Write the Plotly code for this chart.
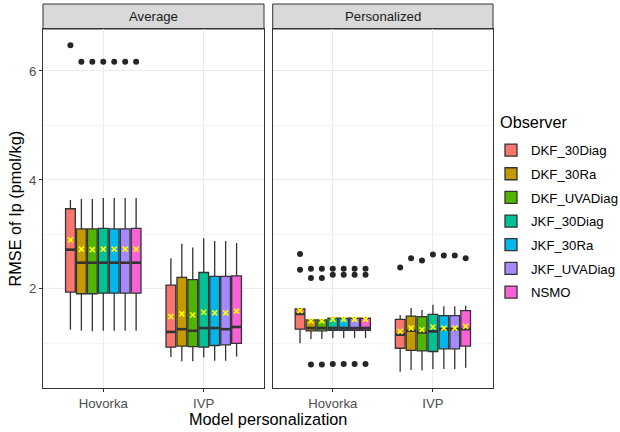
import plotly.graph_objects as go
from plotly.subplots import make_subplots

observers = ["DKF_30Diag", "DKF_30Ra", "DKF_UVADiag", "JKF_30Diag", "JKF_30Ra", "JKF_UVADiag", "NSMO"]
colors = ["#F8766D", "#C49A00", "#53B400", "#00C094", "#00B6EB", "#A58AFF", "#FB61D7"]
models = ["Hovorka", "IVP"]
panels = ["Average", "Personalized"]

# ---- Average / Hovorka
avg_hov_lower = [1.25, 1.23, 1.22, 1.23, 1.23, 1.23, 1.23]
avg_hov_q1 = [1.94, 1.91, 1.91, 1.92, 1.92, 1.92, 1.92]
avg_hov_median = [2.72, 2.48, 2.48, 2.48, 2.48, 2.48, 2.48]
avg_hov_q3 = [3.47, 3.10, 3.10, 3.11, 3.10, 3.10, 3.11]
avg_hov_upper = [3.63, 3.65, 3.65, 3.67, 3.67, 3.67, 3.67]
avg_hov_mean = [2.90, 2.73, 2.72, 2.73, 2.73, 2.73, 2.73]
avg_hov_out = [[6.47], [6.17], [6.17], [6.17], [6.17], [6.17], [6.17]]

# ---- Average / IVP
avg_ivp_lower = [0.75, 0.67, 0.67, 0.74, 0.68, 0.68, 0.76]
avg_ivp_q1 = [0.93, 0.95, 0.94, 0.93, 0.96, 0.97, 1.00]
avg_ivp_median = [1.21, 1.26, 1.23, 1.28, 1.28, 1.26, 1.30]
avg_ivp_q3 = [2.07, 2.21, 2.17, 2.30, 2.23, 2.23, 2.24]
avg_ivp_upper = [2.56, 2.83, 2.76, 2.93, 2.88, 2.88, 2.84]
avg_ivp_mean = [1.49, 1.54, 1.52, 1.57, 1.56, 1.56, 1.59]
avg_ivp_out = [[], [], [], [], [], [], []]

# ---- Personalized / Hovorka
per_hov_lower = [1.00, 1.08, 1.08, 1.10, 1.10, 1.10, 1.10]
per_hov_q1 = [1.26, 1.23, 1.23, 1.24, 1.24, 1.24, 1.24]
per_hov_median = [1.54, 1.28, 1.28, 1.28, 1.28, 1.28, 1.28]
per_hov_q3 = [1.63, 1.43, 1.43, 1.46, 1.46, 1.46, 1.46]
per_hov_upper = [1.63, 1.43, 1.43, 1.46, 1.46, 1.46, 1.46]
per_hov_mean = [1.60, 1.41, 1.41, 1.44, 1.44, 1.44, 1.44]
per_hov_out = [[2.64, 2.35], [2.37, 2.20, 0.61], [2.37, 2.20, 0.61], [2.37, 2.26, 0.62],
               [2.37, 2.26, 0.62], [2.37, 2.26, 0.62], [2.37, 2.26, 0.62]]

# ---- Personalized / IVP
per_ivp_lower = [0.48, 0.51, 0.50, 0.53, 0.53, 0.53, 0.55]
per_ivp_q1 = [0.91, 0.87, 0.86, 0.85, 0.90, 0.90, 0.95]
per_ivp_median = [1.16, 1.23, 1.20, 1.22, 1.26, 1.26, 1.26]
per_ivp_q3 = [1.44, 1.50, 1.49, 1.53, 1.51, 1.51, 1.60]
per_ivp_upper = [1.52, 1.65, 1.61, 1.71, 1.68, 1.68, 1.69]
per_ivp_mean = [1.22, 1.28, 1.25, 1.30, 1.28, 1.28, 1.31]
per_ivp_out = [[2.39], [2.56], [2.52], [2.63], [2.61], [2.61], [2.56]]

groups = {
    ("Average", "Hovorka"): (avg_hov_lower, avg_hov_q1, avg_hov_median, avg_hov_q3, avg_hov_upper, avg_hov_mean, avg_hov_out),
    ("Average", "IVP"): (avg_ivp_lower, avg_ivp_q1, avg_ivp_median, avg_ivp_q3, avg_ivp_upper, avg_ivp_mean, avg_ivp_out),
    ("Personalized", "Hovorka"): (per_hov_lower, per_hov_q1, per_hov_median, per_hov_q3, per_hov_upper, per_hov_mean, per_hov_out),
    ("Personalized", "IVP"): (per_ivp_lower, per_ivp_q1, per_ivp_median, per_ivp_q3, per_ivp_upper, per_ivp_mean, per_ivp_out),
}

FONT = "Liberation Sans, Arial, sans-serif"
SMALL = 13.2
BIG = 16.3
PITCH = 0.109
BOXW = 0.097
n = len(observers)

fig = make_subplots(rows=1, cols=2, shared_yaxes=True, horizontal_spacing=0.0193)

for pi, panel in enumerate(panels):
    col = pi + 1
    for i, obs in enumerate(observers):
        off = (i - (n - 1) / 2) * PITCH
        xs, lo, q1, md, q3, up, mn = [], [], [], [], [], [], []
        ox, oy = [], []
        medx, medy = [], []
        for mi, model in enumerate(models):
            L, Q1, M, Q3, U, MN, OUT = groups[(panel, model)]
            x = mi + 1 + off
            xs.append(x); lo.append(L[i]); q1.append(Q1[i]); md.append(M[i])
            q3.append(Q3[i]); up.append(U[i]); mn.append(MN[i])
            for v in OUT[i]:
                ox.append(x); oy.append(v)
            medx += [x - BOXW / 2, x + BOXW / 2, None]
            medy += [M[i], M[i], None]
        fig.add_trace(go.Box(
            x=xs, q1=q1, median=md, q3=q3, lowerfence=lo, upperfence=up,
            width=BOXW, whiskerwidth=0, boxpoints=False,
            fillcolor=colors[i], line=dict(color="#333333", width=1.3),
            name=obs, legendgroup=obs, showlegend=(pi == 0),
            hoverinfo="skip",
        ), row=1, col=col)
        fig.add_trace(go.Scatter(
            x=medx, y=medy, mode="lines", line=dict(color="#333333", width=2.6),
            showlegend=False, hoverinfo="skip", legendgroup=obs,
        ), row=1, col=col)
        fig.add_trace(go.Scatter(
            x=xs, y=mn, mode="markers",
            marker=dict(symbol="x-thin", size=5, line=dict(color="#FFFF00", width=1.6)),
            showlegend=False, hoverinfo="skip", legendgroup=obs,
        ), row=1, col=col)
        if ox:
            fig.add_trace(go.Scatter(
                x=ox, y=oy, mode="markers",
                marker=dict(size=6, color="#262626"),
                showlegend=False, hoverinfo="skip", legendgroup=obs,
            ), row=1, col=col)

ydom_top = 359 / 384
xdoms = [[0, 221 / 450], [229.7 / 450, 1]]
for pi in range(2):
    xa = "xaxis" if pi == 0 else "xaxis2"
    fig.layout[xa].update(
        domain=xdoms[pi], range=[0.4, 2.6], tickvals=[1, 2], ticktext=models,
        showgrid=True, gridcolor="#EBEBEB", gridwidth=1, zeroline=False,
        showline=True, mirror=True, linecolor="#333333", linewidth=1,
        ticks="outside", ticklen=3, tickcolor="#333333",
        tickfont=dict(family=FONT, size=SMALL, color="#4D4D4D"),
    )
    ya = "yaxis" if pi == 0 else "yaxis2"
    fig.layout[ya].update(
        domain=[0, ydom_top], range=[0.18, 6.77], tickvals=[2, 4, 6],
        showgrid=True, gridcolor="#EBEBEB", gridwidth=1, zeroline=False,
        showline=True, mirror=True, linecolor="#333333", linewidth=1,
        ticks="outside" if pi == 0 else "", ticklen=3, tickcolor="#333333",
        tickfont=dict(family=FONT, size=SMALL, color="#4D4D4D"),
        showticklabels=(pi == 0),
        minor=dict(tickvals=[1, 3, 5], showgrid=True, gridcolor="#F4F4F4", gridwidth=0.6, ticks=""),
    )
    xref = "x domain" if pi == 0 else "x2 domain"
    fig.add_shape(type="rect", xref=xref, yref="paper", x0=0, x1=1, y0=ydom_top, y1=1,
                  fillcolor="#D9D9D9", line=dict(color="#333333", width=1), layer="below")
    fig.add_annotation(xref=xref, yref="paper", x=0.5, y=(ydom_top + 1) / 2,
                       text=panels[pi], showarrow=False, yanchor="middle",
                       font=dict(family=FONT, size=SMALL, color="#1A1A1A"))

fig.add_annotation(xref="paper", yref="paper", x=0.5, y=-31 / 384, text="Model personalization",
                   showarrow=False, yanchor="middle", font=dict(family=FONT, size=BIG, color="#000000"))
fig.add_annotation(xref="paper", yref="paper", x=-28 / 450, y=ydom_top / 2, text="RMSE of Ip (pmol/kg)",
                   showarrow=False, textangle=-90, xanchor="center", yanchor="middle",
                   font=dict(family=FONT, size=BIG, color="#000000"))
# legend title
fig.add_annotation(xref="paper", yref="paper", x=(498 - 43) / 450, y=(388 - 122) / 384, text="Observer",
                   showarrow=False, xanchor="left", yanchor="middle",
                   font=dict(family=FONT, size=BIG, color="#000000"))

fig.update_layout(
    width=620, height=432,
    margin=dict(l=43, r=127, t=4, b=44, autoexpand=False),
    paper_bgcolor="white", plot_bgcolor="white",
    font=dict(family=FONT),
    legend=dict(
        font=dict(family=FONT, size=SMALL, color="#000000"),
        x=(491 - 43) / 450, xanchor="left", y=(388 - 135) / 384, yanchor="top",
        bgcolor="rgba(0,0,0,0)", tracegroupgap=3.5, itemwidth=30,
    ),
)

fig.write_html("out.html", config={"displayModeBar": False},
               post_script="document.body.style.margin='0px';")
